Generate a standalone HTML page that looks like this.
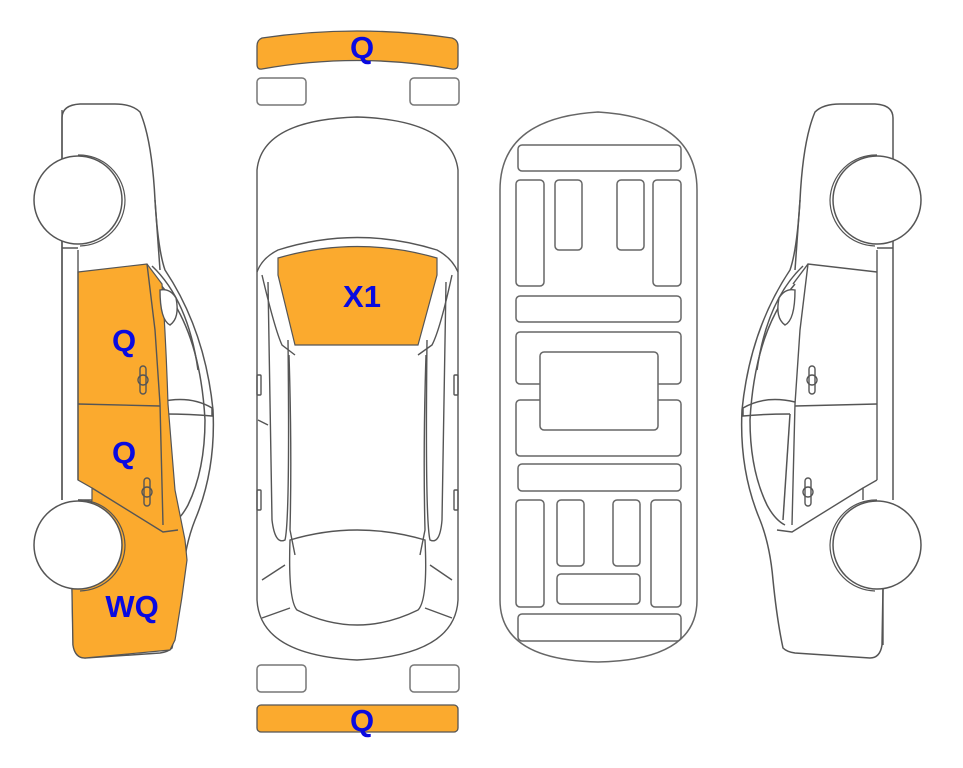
<!DOCTYPE html>
<html><head><meta charset="utf-8"><style>
html,body{margin:0;padding:0;background:#fff;}
svg{display:block}
text{font-family:"Liberation Sans",Arial,sans-serif;font-weight:bold;fill:#0a0ae0;font-size:31px;text-anchor:middle}
</style></head><body>
<svg width="963" height="768" viewBox="0 0 963 768" xmlns="http://www.w3.org/2000/svg">
<defs>
<g id="side" fill="none" stroke="#555" stroke-width="1.5">
  <path d="M62,118 Q62,105 80,104 L115,104 Q132,104 140,112 Q152,140 155,200 Q158,250 165,270 Q205,330 213,410 Q216,470 195,520 Q185,545 182,580 Q178,620 172,648 Q168,652 160,653 L85,658 Q75,658 73,645 L72,588 M62,118 L62,500" fill="#fff"/>
  <path d="M155,200 L160,270"/>
  <path d="M160,284 Q200,330 205,420 Q205,470 188,505 Q180,520 170,525"/>
  <path d="M152,266 Q188,300 198,370"/>
  <path d="M160,402 Q190,395 212,408 L212,416 Q190,414 165,414"/>
  <path d="M165,414 L172,520"/>
  <line x1="62" y1="248" x2="78" y2="248"/>
</g>
</defs>

<use href="#side"/>
<path d="M78,272 L147,264 L162,284 Q166,340 168,404 L175,490 L185,540 L187,560 Q182,600 175,640 L170,650 L85,658 Q75,658 73,645 L72,588 L92,500 L92,488 L78,480 Z" fill="#fbaa2e" stroke="#555" stroke-width="1.2"/>
<g fill="none" stroke="#555" stroke-width="1.4">
  <path d="M147,264 L155,330 L160,404 L163,525"/>
  <line x1="78" y1="404" x2="160" y2="406"/>
  <path d="M92,488 L163,532 L178,530"/>
  <path d="M62,110 L62,500 M78,250 L78,480 M78,500 L92,500"/>
  <path d="M160,290 Q160,320 170,325 Q180,318 176,298 Q170,288 160,290 Z" fill="#fff"/>
  <rect x="140" y="366" width="6" height="28" rx="3"/>
  <circle cx="143" cy="380" r="5"/>
  <rect x="144" y="478" width="6" height="28" rx="3"/>
  <circle cx="147" cy="492" r="5"/>
</g>
<circle cx="78" cy="200" r="44" fill="#fff" stroke="#555" stroke-width="1.5"/>
<circle cx="78" cy="545" r="44" fill="#fff" stroke="#555" stroke-width="1.5"/>
<path d="M78,155 A46,46 0 0,1 125,200 A46,46 0 0,1 80,246" fill="none" stroke="#555" stroke-width="1.2"/>
<path d="M78,500 A46,46 0 0,1 125,545 A46,46 0 0,1 80,591" fill="none" stroke="#555" stroke-width="1.2"/>
<text x="124" y="351">Q</text>
<text x="124" y="463">Q</text>
<text x="132" y="617">WQ</text>

<g transform="translate(955,0) scale(-1,1)">
<use href="#side"/>
<g fill="none" stroke="#555" stroke-width="1.4">
  <path d="M78,272 L147,264 L162,284"/>
  <path d="M147,264 L155,330 L160,404 L163,525"/>
  <line x1="78" y1="404" x2="160" y2="406"/>
  <path d="M92,488 L163,532 L178,530"/>
  <path d="M78,250 L78,480 M78,480 L92,488 L92,500 M72,588 L72,645"/>
  <path d="M160,290 Q160,320 170,325 Q180,318 176,298 Q170,288 160,290 Z" fill="#fff"/>
  <rect x="140" y="366" width="6" height="28" rx="3"/>
  <circle cx="143" cy="380" r="5"/>
  <rect x="144" y="478" width="6" height="28" rx="3"/>
  <circle cx="147" cy="492" r="5"/>
</g>
<circle cx="78" cy="200" r="44" fill="#fff" stroke="#555" stroke-width="1.5"/>
<circle cx="78" cy="545" r="44" fill="#fff" stroke="#555" stroke-width="1.5"/>
<path d="M78,155 A46,46 0 0,1 125,200 A46,46 0 0,1 80,246" fill="none" stroke="#555" stroke-width="1.2"/>
<path d="M78,500 A46,46 0 0,1 125,545 A46,46 0 0,1 80,591" fill="none" stroke="#555" stroke-width="1.2"/>
</g>

<path d="M262,38 Q357,24 452,38 Q458,40 458,46 L458,64 Q458,70 452,69 Q357,52 262,69 Q257,70 257,64 L257,46 Q257,40 262,38 Z" fill="#fbaa2e" stroke="#555" stroke-width="1.3"/>
<text x="362" y="58">Q</text>
<g fill="#fff" stroke="#777" stroke-width="1.5">
<rect x="257" y="78" width="49" height="27" rx="4"/>
<rect x="410" y="78" width="49" height="27" rx="4"/>
<rect x="257" y="665" width="49" height="27" rx="4"/>
<rect x="410" y="665" width="49" height="27" rx="4"/>
</g>
<g fill="none" stroke="#555" stroke-width="1.4">
  <path d="M257,170 Q262,120 357,117 Q452,120 458,170 L458,600 Q455,655 357,660 Q260,655 257,600 Z" fill="#fff"/>
  <path d="M257,272 Q262,258 278,250 Q357,225 437,250 Q452,258 458,272"/>
  <path d="M262,275 Q275,330 282,345 L295,355 M452,275 Q440,330 432,345 L418,355"/>
  <path d="M268,282 Q270,420 272,520 Q275,545 285,540 Q290,520 288,340 M446,282 Q444,420 442,520 Q440,545 430,540 Q425,520 427,340"/>
  <path d="M289,355 Q292,450 290,530 L295,555 M426,355 Q423,450 425,530 L420,555"/>
  <path d="M290,540 Q357,520 425,540 Q428,600 418,610 Q357,640 297,610 Q288,600 290,540 Z"/>
  <path d="M262,580 L285,565 M452,580 L430,565 M258,420 L268,425 M262,618 L290,608 M452,618 L425,608"/>
  <rect x="257" y="375" width="4" height="20" rx="1"/>
  <rect x="454" y="375" width="4" height="20" rx="1"/>
  <rect x="257" y="490" width="4" height="20" rx="1"/>
  <rect x="454" y="490" width="4" height="20" rx="1"/>
</g>
<path d="M278,258 Q357,235 437,258 L437,275 L418,345 L295,345 L278,275 Z" fill="#fbaa2e" stroke="#555" stroke-width="1.2"/>
<text x="362" y="307">X1</text>
<rect x="257" y="705" width="201" height="27" rx="4" fill="#fbaa2e" stroke="#555" stroke-width="1.3"/>
<text x="362" y="731">Q</text>

<g fill="#fff" stroke="#666" stroke-width="1.5">
  <path d="M500,190 Q500,118 598,112 Q697,118 697,190 L697,600 Q697,660 598,662 Q500,660 500,600 Z"/>
  <rect x="518" y="145" width="163" height="26" rx="4"/>
  <rect x="516" y="180" width="28" height="106" rx="4"/>
  <rect x="555" y="180" width="27" height="70" rx="4"/>
  <rect x="617" y="180" width="27" height="70" rx="4"/>
  <rect x="653" y="180" width="28" height="106" rx="4"/>
  <rect x="516" y="296" width="165" height="26" rx="4"/>
  <rect x="516" y="332" width="165" height="52" rx="4"/>
  <rect x="516" y="400" width="165" height="56" rx="4"/>
  <rect x="540" y="352" width="118" height="78" rx="4"/>
  <rect x="518" y="464" width="163" height="27" rx="4"/>
  <rect x="516" y="500" width="28" height="107" rx="4"/>
  <rect x="557" y="500" width="27" height="66" rx="4"/>
  <rect x="613" y="500" width="27" height="66" rx="4"/>
  <rect x="651" y="500" width="30" height="107" rx="4"/>
  <rect x="557" y="574" width="83" height="30" rx="4"/>
  <rect x="518" y="614" width="163" height="27" rx="4"/>
</g>
</svg>
</body></html>
